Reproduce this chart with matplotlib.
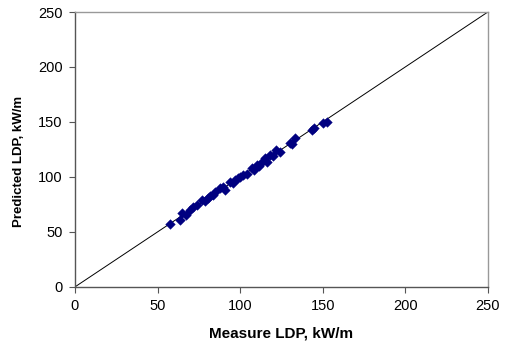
import matplotlib
matplotlib.use("Agg")
import matplotlib.pyplot as plt

plt.rcParams['font.family'] = ['Liberation Sans', 'DejaVu Sans']

measured = [57.5, 63.5, 65, 67, 69.5, 71.5, 74, 77, 79, 80.5, 82, 83.5, 85, 87.8, 89.6,
            91, 94, 95.5, 97, 98.5, 100, 102, 104, 107, 108.5, 110, 111.5, 113, 115,
            116.5, 118, 120, 122, 124, 130, 131.5, 133, 143.5, 145, 150, 152.5]
predicted = [57, 61, 67, 65.5, 70, 73, 74.5, 79, 78.5, 81, 82.5, 83.6, 86, 90, 91,
             88.5, 95.5, 94.5, 97, 99, 100, 102, 103, 108, 106.5, 111, 110, 114, 117,
             113.5, 120, 119, 124.5, 123, 131, 130, 135.5, 143, 144.5, 149, 150]
lim = [0, 250]
ticks = [0, 50, 100, 150, 200, 250]

fig = plt.figure(figsize=(5.05, 3.49), dpi=100)
ax = fig.add_axes([0.1485, 0.178, 0.8175, 0.7876])

ax.plot(lim, lim, color='black', lw=0.7, zorder=1)
ax.scatter(measured, predicted, marker='D', s=24, color='#000080', edgecolors='#000080',
           linewidths=0.3, zorder=2)

ax.set_xlim(lim)
ax.set_ylim(lim)
ax.set_xticks(ticks)
ax.set_yticks(ticks)
ax.tick_params(direction='out', length=4, width=0.8, colors='#555555', labelsize=10.5,
               labelcolor='black', pad=5)
for s in ['left', 'bottom']:
    ax.spines[s].set_color('#555555')
    ax.spines[s].set_linewidth(1.0)
for s in ['top', 'right']:
    ax.spines[s].set_color('#999999')
    ax.spines[s].set_linewidth(1.0)

ax.set_xlabel('Measure LDP, kW/m', fontsize=11, fontweight='bold')
ax.set_ylabel('Predicted LDP, kW/m', fontsize=9.5, fontweight='bold')
ax.xaxis.set_label_coords(0.5, -0.145)
ax.yaxis.set_label_coords(-0.12, 0.455)

fig.savefig('out.png', dpi=100)
